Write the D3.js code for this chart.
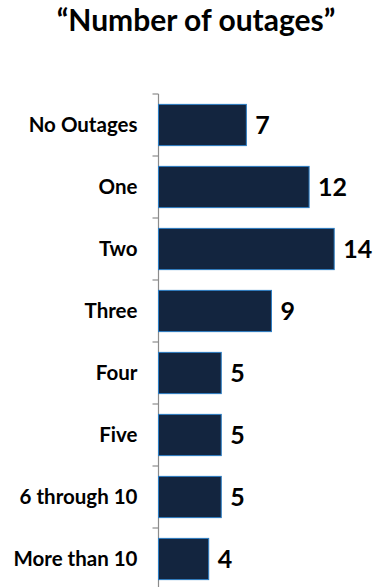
<!DOCTYPE html>
<html>
<head>
<meta charset="utf-8">
<script src="https://cdn.jsdelivr.net/npm/d3@7"></script>
<style>
  html, body { margin: 0; padding: 0; background: #fff; }
  svg { display: block; }
  text { font-family: Lato, "Open Sans", sans-serif; font-weight: bold; fill: #000; }
</style>
</head>
<body>
<svg id="chart" width="373" height="587"></svg>
<script>
const title = "\u201cNumber of outages\u201d";
const categories = ["No Outages", "One", "Two", "Three", "Four", "Five", "6 through 10", "More than 10"];
const values = [7, 12, 14, 9, 5, 5, 5, 4];

const svg = d3.select("#chart");
const axisX = 158.5;
const xPerUnit = 12.55;
const plotTop = 94, step = 62;

const x = d3.scaleLinear().domain([0, 14]).range([axisX, axisX + 14 * xPerUnit]);
const y = d3.scaleBand()
  .domain(categories)
  .range([plotTop, plotTop + step * categories.length])
  .paddingInner(0.335).paddingOuter(0.1675);

// title
svg.append("text")
  .attr("x", 196).attr("y", 31)
  .attr("text-anchor", "middle")
  .style("font-size", "30px")
  .text(title);

// category axis
const axis = d3.axisLeft(y).tickSize(0).tickPadding(21);
const g = svg.append("g").attr("transform", `translate(${axisX},0)`).call(axis);
g.select(".domain").remove();
g.selectAll("text").style("font-size", "20.5px").style("font-family", "Lato, 'Open Sans', sans-serif").style("font-weight", "bold").attr("fill", "#000");

// vertical axis line with tick marks between categories
svg.append("line")
  .attr("x1", axisX).attr("x2", axisX)
  .attr("y1", plotTop).attr("y2", plotTop + step * categories.length)
  .attr("stroke", "#8c8c8c").attr("stroke-width", 1.2);
const boundaries = d3.range(categories.length + 1).map(i => plotTop + i * step);
svg.selectAll("line.tick")
  .data(boundaries)
  .join("line")
  .attr("class", "tick")
  .attr("x1", axisX - 6).attr("x2", axisX)
  .attr("y1", d => d).attr("y2", d => d)
  .attr("stroke", "#8c8c8c").attr("stroke-width", 1.2);

// bars
svg.selectAll("rect.bar")
  .data(values)
  .join("rect")
  .attr("class", "bar")
  .attr("x", x(0))
  .attr("y", (d, i) => y(categories[i]))
  .attr("width", d => x(d) - x(0))
  .attr("height", y.bandwidth())
  .attr("fill", "#13253f")
  .attr("stroke", "#2a7cc4")
  .attr("stroke-width", 1);

// value labels
svg.selectAll("text.val")
  .data(values)
  .join("text")
  .attr("class", "val")
  .attr("x", d => x(d) + 9)
  .attr("y", (d, i) => y(categories[i]) + y.bandwidth() / 2)
  .attr("dy", "0.36em")
  .style("font-size", "25px")
  .text(d => d);
</script>
</body>
</html>
